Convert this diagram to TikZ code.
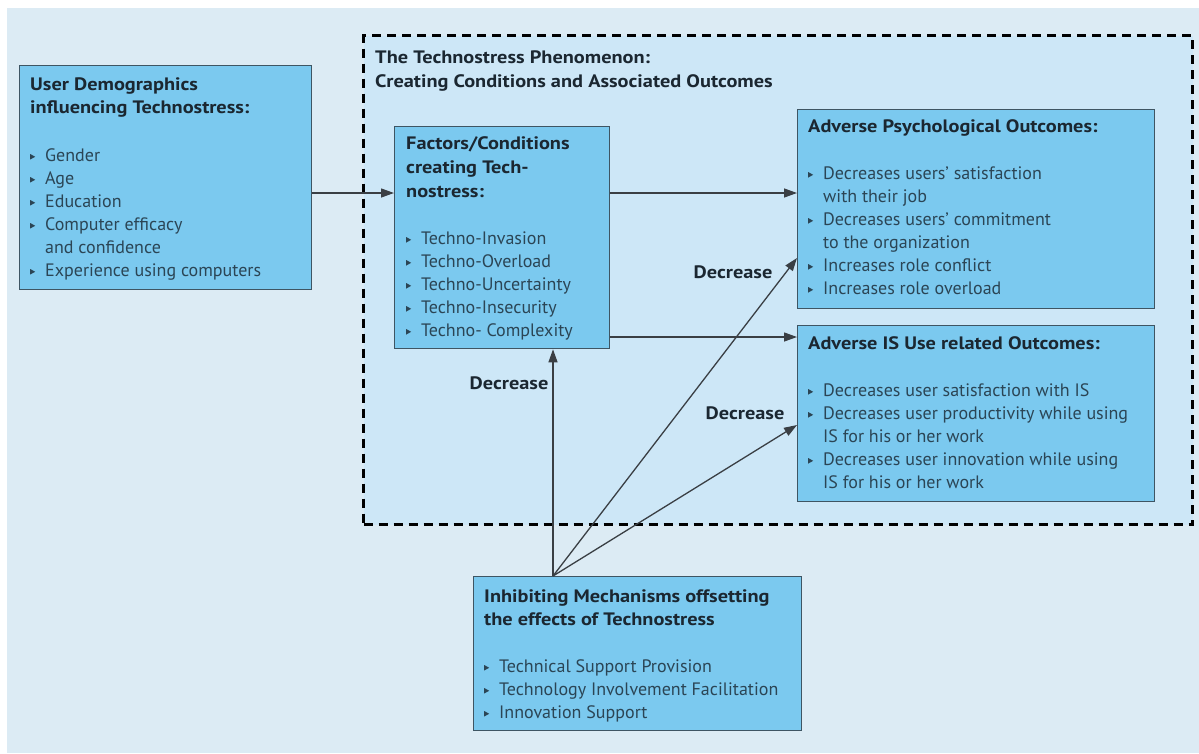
\documentclass[tikz,border=0pt]{standalone}
\usepackage{fontspec}
\setmainfont{PT Sans}[BoldFeatures={FakeStretch=1.13}]
\usetikzlibrary{arrows.meta,positioning,calc}

\definecolor{bgout}{HTML}{DCEBF4}
\definecolor{bgin}{HTML}{CDE7F7}
\definecolor{boxfill}{HTML}{7BC9EF}
\definecolor{boxline}{HTML}{3E5563}
\definecolor{titlecol}{HTML}{1B2731}
\definecolor{itemcol}{HTML}{2B4555}
\definecolor{linecol}{HTML}{3A3F44}

\newcommand{\tribul}{\tikz[baseline=0pt]\fill[itemcol] (0pt,1.5pt) -- (0pt,7pt) -- (5pt,4.25pt) -- cycle;}
\newcommand{\itm}[1]{\makebox[15pt][l]{\tribul}#1}
\newcommand{\cnt}[1]{\hspace*{15pt}#1}
\newcommand{\ttl}[1]{{\bfseries\color{titlecol}#1}}

\begin{document}
\begin{tikzpicture}[x=1pt,y=-1pt,
  frame/.style={draw=black,fill=bgin,line width=3pt,dash pattern=on 9pt off 6pt,anchor=north west,inner sep=0pt},
  panel/.style={draw=boxline,fill=boxfill,line width=1.3pt,anchor=north west,inner sep=0pt},
  paneltext/.style={anchor=north west,align=left,inner sep=0pt,text=itemcol,
    font=\fontsize{18}{23}\selectfont,execute at begin node={\rule{0pt}{14pt}}},
  flow/.style={draw=linecol,line width=1.3pt,-{Triangle[length=13pt,width=9pt]}},
  lbl/.style={font=\bfseries\fontsize{18}{22}\selectfont,text=titlecol,inner sep=0pt}]

\useasboundingbox (0,0) rectangle (1199,753);
\fill[bgout] (7,8) rectangle (1199,753);

% the dashed frame and the boxes
\node[frame,minimum width=829,minimum height=489] (phen) at (362,34) {};
\node[panel,minimum width=292,minimum height=224] (demo) at (19,65) {};
\node[panel,minimum width=215,minimum height=222] (factors) at (394,126) {};
\node[panel,minimum width=357,minimum height=199] (psych) at (797,109) {};
\node[panel,minimum width=357,minimum height=176] (isuse) at (797,325) {};
\node[panel,minimum width=328,minimum height=154] (inhib) at (473,576) {};

% connectors
\coordinate (lvlA) at (0,193);
\coordinate (lvlB) at (0,337);
\coordinate (src) at (553,576);
\coordinate (hitA) at (797,258);
\coordinate (hitB) at (797,425);
\draw[flow] (demo.east |- lvlA) -- (factors.west |- lvlA);
\draw[flow] (factors.east |- lvlA) -- (psych.west |- lvlA);
\draw[flow] (factors.east |- lvlB) -- (isuse.west |- lvlB);
\draw[flow] (src) -- (src |- factors.south);
\draw[flow] (src) -- (hitA);
\draw[flow] (src) -- (hitB);

% texts
\node[paneltext] (phentitle) at ([shift={(13,17)}]phen.north west)
  {\ttl{The Technostress Phenomenon:}\\[1pt]\ttl{Creating Conditions and Associated Outcomes}};
\node[paneltext] (demotext) at ([shift={(11,12)}]demo.north west)
  {\ttl{User Demographics}\\\ttl{influencing Technostress:}\\[25pt]
   \itm{Gender}\\\itm{Age}\\\itm{Education}\\\itm{Computer efficacy}\\\cnt{and confidence}\\
   \itm{Experience using computers}};
\node[paneltext] (factorstext) at ([shift={(12,10)}]factors.north west)
  {\ttl{Factors/Conditions}\\[1pt]\ttl{creating Tech-}\\[1pt]\ttl{nostress:}\\[24pt]
   \itm{Techno-Invasion}\\\itm{Techno-Overload}\\\itm{Techno-Uncertainty}\\
   \itm{Techno-Insecurity}\\\itm{Techno- Complexity}};
\node[paneltext] (psychtext) at ([shift={(11,10)}]psych.north west)
  {\ttl{Adverse Psychological Outcomes:}\\[24pt]
   \itm{Decreases users' satisfaction}\\\cnt{with their job}\\
   \itm{Decreases users' commitment}\\\cnt{to the organization}\\
   \itm{Increases role conflict}\\\itm{Increases role overload}};
\node[paneltext] (isusetext) at ([shift={(11,11)}]isuse.north west)
  {\ttl{Adverse IS Use related Outcomes:}\\[24pt]
   \itm{Decreases user satisfaction with IS}\\
   \itm{Decreases user productivity while using}\\\cnt{IS for his or her work}\\
   \itm{Decreases user innovation while using}\\\cnt{IS for his or her work}};
\node[paneltext] (inhibtext) at ([shift={(11,13)}]inhib.north west)
  {\ttl{Inhibiting Mechanisms offsetting}\\\ttl{the effects of Technostress}\\[24pt]
   \itm{Technical Support Provision}\\\itm{Technology Involvement Facilitation}\\
   \itm{Innovation Support}};

\node[lbl] (decA) at (733,272) {Decrease};
\node[lbl] (decB) at (509,383) {Decrease};
\node[lbl] (decC) at (745,413) {Decrease};
\end{tikzpicture}
\end{document}
